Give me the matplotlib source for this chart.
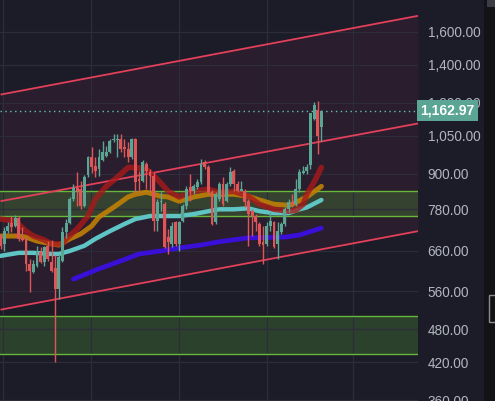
import numpy as np
import matplotlib.pyplot as plt
from matplotlib.ticker import FixedLocator, FuncFormatter, NullLocator
from matplotlib.transforms import blended_transform_factory
from matplotlib.patches import Rectangle

# candles (open, high, low, close)
opens = [700, 678, 714, 738, 729, 753, 692, 695, 625, 605, 620, 656, 630, 673, 630, 615, 565, 633, 712, 738,
         813, 849, 846, 790, 895, 963, 928, 917, 951, 966, 982, 1031, 1031, 1035, 1002, 994, 963, 1035, 881, 874,
         936, 906, 892, 744, 803, 796, 697, 678, 741, 678, 744, 790, 853, 839, 853, 870, 944, 924, 836, 741,
         813, 863, 806, 863, 910, 863, 839, 839, 806, 774, 759, 735, 684, 678, 729, 741, 678, 712, 735, 780,
         803, 796, 846, 903, 910, 932, 1122, 1168, 1087]
highs = [706, 726, 741, 759, 762, 759, 726, 697, 638, 635, 673, 670, 673, 686, 689, 648, 651, 726, 750, 820,
         863, 906, 874, 895, 966, 1002, 963, 994, 1027, 1006, 1035, 1056, 1060, 1056, 1035, 1023, 1043, 1039, 910, 951,
         944, 917, 906, 813, 836, 803, 720, 741, 744, 744, 796, 856, 899, 863, 881, 955, 951, 932, 843, 836,
         870, 888, 870, 924, 917, 874, 874, 846, 813, 780, 765, 741, 729, 741, 771, 744, 741, 741, 786, 813,
         829, 881, 917, 928, 936, 1154, 1202, 1211, 1168]
lows = [664, 659, 709, 712, 726, 686, 686, 608, 558, 603, 618, 628, 620, 633, 606, 420, 543, 630, 695, 735,
        806, 790, 780, 786, 890, 903, 888, 892, 947, 963, 978, 1023, 963, 982, 963, 943, 955, 836, 836, 870,
        846, 839, 714, 714, 774, 668, 651, 670, 673, 659, 741, 780, 806, 829, 846, 863, 917, 829, 732, 735,
        806, 790, 803, 856, 839, 836, 839, 786, 673, 700, 714, 673, 625, 673, 714, 668, 638, 706, 729, 771,
        786, 790, 836, 899, 899, 917, 1118, 974, 1027]
closes = [672, 714, 729, 726, 753, 692, 689, 625, 608, 625, 659, 630, 670, 638, 608, 565, 643, 712, 738, 813,
          849, 839, 790, 888, 963, 924, 910, 963, 982, 982, 1027, 1035, 1035, 994, 994, 963, 1035, 870, 874, 944,
          910, 892, 744, 803, 806, 670, 684, 729, 678, 741, 790, 846, 839, 856, 870, 936, 924, 836, 735, 829,
          863, 796, 863, 906, 863, 839, 846, 803, 765, 759, 741, 678, 675, 729, 744, 670, 714, 735, 780, 803,
          796, 846, 906, 910, 924, 1150, 1192, 1048, 1162.97]
last_price = 1162.97

# moving averages (bar index, price)
red_x = [0, 4, 7, 9, 12, 14, 17, 18, 21, 24, 26, 29, 32, 35, 37, 40, 43, 46, 49, 53, 57, 60, 64, 68, 71, 75, 79, 81, 83, 84, 86, 88]
red_y = [750, 744, 714, 700, 689, 678, 678, 692, 720, 759, 813, 856, 888, 924, 924, 917, 881, 839, 820, 839, 846, 836,
         839, 822, 796, 780, 774, 777, 796, 829, 870, 924]
orange_x = [0, 5, 7, 10, 14, 16, 19, 22, 25, 27, 31, 35, 37, 40, 44, 46, 49, 53, 57, 60, 64, 68, 71, 75, 79, 80, 84, 88]
orange_y = [700, 700, 697, 686, 678, 675, 692, 706, 729, 756, 786, 820, 829, 836, 822, 820, 806, 820, 829, 829, 829,
            822, 810, 796, 793, 796, 820, 856]
cyan_x = [0, 5, 9, 14, 16, 19, 23, 26, 30, 34, 37, 41, 46, 49, 53, 57, 60, 64, 68, 71, 75, 79, 82, 84, 88]
cyan_y = [646, 654, 654, 651, 651, 659, 673, 692, 714, 735, 750, 759, 759, 759, 765, 774, 780, 780, 783, 774, 768,
          768, 780, 786, 810]
blue_x = [20, 27, 33, 38, 44, 49, 55, 60, 68, 78, 82, 88]
blue_y = [588, 613, 633, 651, 659, 667, 675, 684, 695, 697, 703, 723]

# channel (anchors at left / right edge of the plot)
chan_x = [0, 114.5]
chan_upper = [1241, 1707]
chan_mid = [806, 1104]
chan_lower = [519.5, 714]

# green zones
zones = [(760, 840), (435, 507)]

yticks = [360, 420, 480, 560, 660, 780, 900, 1050, 1200, 1400, 1600]
xgrid = [0.7, 24.8, 49, 73.1, 96.7]

bg = '#1c1b28'
up_col = '#5aa593'
dn_col = '#df5659'

fig = plt.figure(figsize=(4.95, 4.01), dpi=100, facecolor=bg)
ax = fig.add_axes([0, 0, 418 / 495, 1])
ax.set_facecolor(bg)
ax.set_yscale('log')
ax.set_xlim(-0.14, 114.5)
ax.set_ylim(359, 1820)

# channel fill and lines
ax.fill_between(chan_x, chan_lower, chan_upper, color='#2a1d2d', zorder=0.5, lw=0)
for ys in (chan_upper, chan_mid, chan_lower):
    ax.plot(chan_x, ys, color='#e3405a', lw=1.3, zorder=2.2, solid_capstyle='butt')

# zones
for lo, hi in zones:
    ax.axhspan(lo, hi, color='#4f9a36', alpha=0.3, lw=0, zorder=0.8)
    ax.axhline(lo, color='#67b83a', lw=1.0, zorder=2.1)
    ax.axhline(hi, color='#67b83a', lw=1.0, zorder=2.1)

# grid
for v in xgrid:
    ax.axvline(v, color='#2d2c3b', lw=0.9, zorder=0.9)
for t in yticks:
    ax.axhline(t, color='#2d2c3b', lw=0.9, zorder=0.9)

# moving averages
ax.plot(blue_x, blue_y, color='#3a0fd8', lw=3.4, zorder=2.5, solid_capstyle='round')
ax.plot(cyan_x, cyan_y, color='#5fc4c4', lw=3.2, zorder=2.5, solid_capstyle='round')
ax.plot(orange_x, orange_y, color='#c07f06', lw=3.6, alpha=0.9, zorder=2.6, solid_capstyle='round')
ax.plot(red_x, red_y, color='#a81a1a', lw=4.0, alpha=0.8, zorder=2.7, solid_capstyle='round')

# candles
idx = np.arange(len(opens))
o = np.array(opens, float)
c = np.array(closes, float)
cols = [up_col if cc >= oo else dn_col for oo, cc in zip(o, c)]
ax.vlines(idx, lows, highs, colors=cols, lw=1.0, zorder=3)
bottom = np.minimum(o, c)
height = np.maximum(np.abs(c - o), bottom * 0.004)
ax.bar(idx, height, bottom=bottom, width=0.78, color=cols, lw=0, zorder=3.1)

# last price line + label
ax.axhline(last_price, color='#5fc4b4', lw=1.0, ls=(0, (1, 2.5)), zorder=2)
tr = blended_transform_factory(ax.transAxes, ax.transData)
ax.text(1.005, last_price, '{:,.2f}'.format(last_price), transform=tr, ha='left', va='center',
        fontsize=10, color='white', fontweight='bold', family='Liberation Sans', zorder=10, clip_on=False,
        bbox=dict(boxstyle='square,pad=0.25', fc='#5aa593', ec='none'))

# axes
ax.yaxis.tick_right()
ax.yaxis.set_major_locator(FixedLocator(yticks))
ax.yaxis.set_minor_locator(NullLocator())
ax.yaxis.set_major_formatter(FuncFormatter(lambda v, p: '{:,.2f}'.format(v)))
ax.tick_params(axis='y', length=0, pad=7, labelsize=9.8, labelcolor='#b2b5be')
for lab in ax.get_yticklabels():
    lab.set_family('Liberation Sans')
ax.xaxis.set_major_locator(NullLocator())
for s in ax.spines.values():
    s.set_visible(False)

# right side strip
fig.patches.append(Rectangle((484 / 495, 0), 11 / 495, 1, transform=fig.transFigure, fc='#131317', ec='none', zorder=0))
fig.patches.append(Rectangle((487 / 495, 394 / 401), 8 / 495, 7 / 401, transform=fig.transFigure, fc='#3c3c46', ec='none'))
fig.patches.append(Rectangle((489 / 495, (401 - 322) / 401), 10 / 495, 27 / 401, transform=fig.transFigure,
                             fc='none', ec='#8a8a92', lw=1.0))

fig.savefig('out.png', dpi=100, facecolor=bg)
